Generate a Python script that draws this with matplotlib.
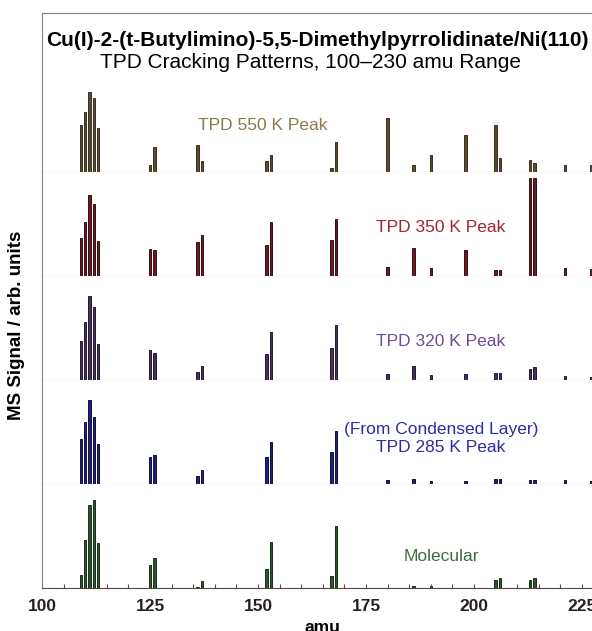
import matplotlib.pyplot as plt
from matplotlib.ticker import MultipleLocator

plt.rcParams['font.family'] = ['Liberation Sans', 'DejaVu Sans']

# fragment masses (amu)
masses = [109, 110, 111, 112, 113, 125, 126, 136, 137, 152, 153, 167, 168,
          180, 186, 190, 198, 205, 206, 213, 214, 221, 227]

# signal heights (arb. units)
peak_550 = [47, 60, 80, 74, 44, 7, 25, 27, 11, 11, 17, 4, 30,
            54, 7, 17, 37, 47, 14, 12, 9, 7, 7]
peak_350 = [38, 54, 81, 72, 35, 27, 26, 34, 41, 31, 54, 36, 57,
            9, 28, 8, 26, 6, 6, 98, 98, 8, 7]
peak_320 = [39, 58, 84, 73, 36, 30, 27, 8, 14, 26, 48, 32, 55,
            6, 14, 5, 6, 7, 7, 11, 13, 4, 3]
peak_285 = [45, 62, 84, 67, 40, 27, 29, 8, 14, 27, 42, 32, 53,
            4, 5, 3, 3, 5, 5, 4, 4, 4, 3]
molecular = [13, 48, 83, 88, 45, 23, 30, 1, 7, 19, 46, 12, 62,
             0.5, 2, 2, 0.5, 8, 10, 8, 10, 0.3, 0.3]

panels = [
    (peak_550, '#5a4a32', '#3a3020', 'TPD 550 K Peak', '#8c7a48'),
    (peak_350, '#6a1c24', '#3a0e12', 'TPD 350 K Peak', '#a2262c'),
    (peak_320, '#45325e', '#251835', 'TPD 320 K Peak', '#6c4c94'),
    (peak_285, '#20207a', '#101040', '(From Condensed Layer)\nTPD 285 K Peak', '#2c2ca6'),
    (molecular, '#2e5530', '#16301a', 'Molecular', '#3c6e3c'),
]
label_y = [0.30, 0.47, 0.37, 0.44, 0.30]

W, H = 592, 631
fig = plt.figure(figsize=(W / 100, H / 100), dpi=100)

left = 42 / W
panel_h = 104
bottoms = [172, 276, 380, 484, 588]

axes = []
for i, (vals, fc, ec, lab, tc) in enumerate(panels):
    bot = bottoms[i]
    top = 13 if i == 0 else bot - panel_h
    ax = fig.add_axes([left, 1 - bot / H, 1 - left, (bot - top) / H])
    ax.bar(masses, vals, width=0.55, color=fc, edgecolor=ec, linewidth=0.7)
    ax.set_xlim(100, 227.3)
    ax.set_ylim(0, bot - top)
    ax.spines['right'].set_visible(False)
    ax.spines['top'].set_visible(i == 0)
    ax.spines['top'].set_color('#808080')
    ax.spines['left'].set_color('#808080')
    ax.spines['bottom'].set_color('#9a9090' if i < 4 else '#5a4444')
    ax.set_yticks([])
    ax.tick_params(axis='x', bottom=False, labelbottom=False)
    axes.append(ax)

# panel labels
axes[0].text((263 - 42) / (W - 42), 47 / 159, panels[0][3], color=panels[0][4],
             fontsize=12.5, ha='center', va='center', transform=axes[0].transAxes)
for i in range(1, 5):
    axes[i].text((441 - 42) / (W - 42), label_y[i], panels[i][3], color=panels[i][4],
                 fontsize=12.5, ha='center', va='center', linespacing=1.25,
                 transform=axes[i].transAxes)

# title inside top panel
axes[0].text((317 - 42) / (W - 42), 1 - 27 / 159,
             'Cu(I)-2-(t-Butylimino)-5,5-Dimethylpyrrolidinate/Ni(110)',
             transform=axes[0].transAxes, ha='center', va='center',
             fontsize=15, fontweight='bold')
axes[0].text((310 - 42) / (W - 42), 1 - 50 / 159, 'TPD Cracking Patterns, 100\u2013230 amu Range',
             transform=axes[0].transAxes, ha='center', va='center', fontsize=15)

bax = axes[-1]
bax.xaxis.set_major_locator(MultipleLocator(25))
bax.xaxis.set_minor_locator(MultipleLocator(5))
bax.tick_params(axis='x', which='both', bottom=True, labelbottom=True, direction='in',
                length=3, width=0.8, color='#5a4444', pad=8)
bax.tick_params(axis='x', labelsize=12.5)
for t in bax.get_xticklabels():
    t.set_fontweight('bold')
    t.set_color('#2a2020')
bax.set_xlabel('amu', fontsize=12.5, fontweight='bold', labelpad=2)
bax.xaxis.set_label_coords((322 - 42) / (W - 42), -0.31)

fig.text(17 / W, 1 - 325 / H, 'MS Signal / arb. units', rotation=90, ha='center',
         va='center', fontsize=13.5, fontweight='bold')

fig.savefig('out.png', dpi=100)
